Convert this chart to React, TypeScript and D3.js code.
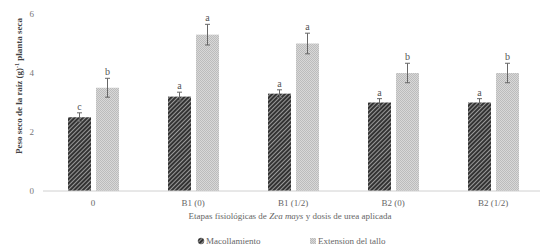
import * as d3 from 'd3';

// data
const etapas = ['0', 'B1 (0)', 'B1 (1/2)', 'B2 (0)', 'B2 (1/2)'];
const macollamiento = [2.5, 3.2, 3.3, 3.0, 3.0];
const macollamientoErr = [0.15, 0.15, 0.13, 0.13, 0.13];
const macollamientoLetra = ['c', 'a', 'a', 'a', 'a'];
const extension = [3.5, 5.3, 5.0, 4.0, 4.0];
const extensionErr = [0.32, 0.35, 0.35, 0.33, 0.33];
const extensionLetra = ['b', 'a', 'a', 'b', 'b'];
const yTicks = [0, 2, 4, 6];

function App() {
  const W = 540;
  const H = 250;
  const font = '"Liberation Serif", "DejaVu Serif", serif';

  // scales
  const x = d3.scaleBand().domain(etapas).range([43, 543]);
  const y = d3.scaleLinear().domain([0, 6]).range([191, 14]);

  const series = [
    { vals: macollamiento, err: macollamientoErr, letras: macollamientoLetra, off: -25, fill: 'url(#hatch)' },
    { vals: extension, err: extensionErr, letras: extensionLetra, off: 3, fill: 'url(#dots)' },
  ];
  const barW = 23;

  return (
    <svg width={W} height={H} style={{ position: 'absolute', left: 0, top: 0, background: '#fff' }}>
      <defs>
        <pattern id="hatch" patternUnits="userSpaceOnUse" width="3" height="3" patternTransform="rotate(45)">
          <rect width="3" height="3" fill="#9a9a9a" />
          <rect width="2" height="3" fill="#333" />
        </pattern>
        <pattern id="dots" patternUnits="userSpaceOnUse" width="2" height="2">
          <rect width="2" height="2" fill="#d8d8d8" />
          <rect width="1" height="1" fill="#bcbcbc" />
          <rect x="1" y="1" width="1" height="1" fill="#bcbcbc" />
        </pattern>
      </defs>

      {/* y ticks */}
      {yTicks.map((t) => (
        <text key={t} x={34} y={y(t) + 3} textAnchor="end" fontFamily={font} fontSize={9} fill="#777">
          {t}
        </text>
      ))}

      {/* bars, error bars and letters */}
      {series.map((s, si) =>
        etapas.map((e, i) => {
          const cx = (x(e) as number) + x.bandwidth() / 2;
          const bx = cx + s.off;
          const mid = bx + barW / 2;
          const top = y(s.vals[i] + s.err[i]);
          const bot = y(s.vals[i] - s.err[i]);
          return (
            <g key={si + '-' + i}>
              <rect x={bx} y={y(s.vals[i])} width={barW} height={y(0) - y(s.vals[i])} fill={s.fill} />
              <line x1={mid} x2={mid} y1={top} y2={bot} stroke="#666" strokeWidth={1} />
              <line x1={mid - 2.5} x2={mid + 2.5} y1={top} y2={top} stroke="#666" strokeWidth={1} />
              <line x1={mid - 2.5} x2={mid + 2.5} y1={bot} y2={bot} stroke="#666" strokeWidth={1} />
              <text x={mid} y={top - 3} textAnchor="middle" fontFamily={font} fontSize={10} fill="#555">
                {s.letras[i]}
              </text>
            </g>
          );
        })
      )}

      {/* x axis */}
      <line x1={43} x2={540} y1={y(0)} y2={y(0)} stroke="#d0d0d0" strokeWidth={1} />
      {etapas.map((e) => (
        <text key={e} x={(x(e) as number) + x.bandwidth() / 2} y={206} textAnchor="middle" fontFamily={font} fontSize={9} fill="#666">
          {e}
        </text>
      ))}

      {/* axis titles */}
      <text x={290} y={219} textAnchor="middle" fontFamily={font} fontSize={9} fill="#666">
        Etapas fisiológicas de <tspan fontStyle="italic">Zea mays</tspan> y dosis de urea aplicada
      </text>
      <text
        transform="translate(22,86) rotate(-90)"
        textAnchor="middle"
        fontFamily={font}
        fontSize={9}
        fontWeight="bold"
        fill="#444"
      >
        Peso seco de la raíz (g)<tspan dy={-3} fontSize={6}>-1</tspan><tspan dy={3}> planta seca</tspan>
      </text>

      {/* legend */}
      <circle cx={201} cy={241} r={3} fill="url(#hatch)" stroke="#555" strokeWidth={0.5} />
      <text x={206} y={244} fontFamily={font} fontSize={9} fill="#666">Macollamiento</text>
      <rect x={310} y={238} width={6} height={6} fill="url(#dots)" />
      <text x={318} y={244} fontFamily={font} fontSize={9} fill="#666">Extension del tallo</text>
    </svg>
  );
}

export default App;
